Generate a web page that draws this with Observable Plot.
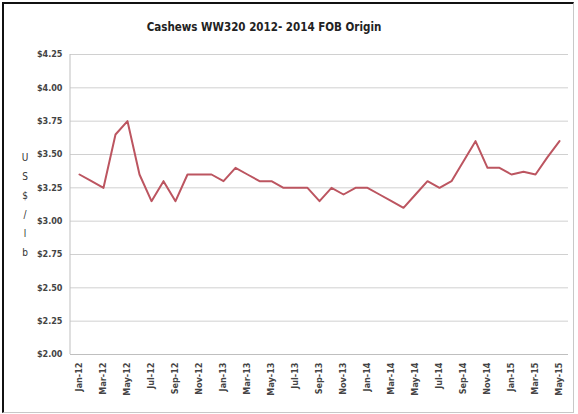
<!DOCTYPE html>
<html>
<head>
<meta charset="utf-8">
<script src="https://cdn.jsdelivr.net/npm/d3@7"></script>
<script src="https://cdn.jsdelivr.net/npm/@observablehq/plot@0.6"></script>
<style>
  html, body { margin: 0; padding: 0; background: #fff; }
  #wrap { position: relative; width: 578px; height: 414px; overflow: hidden; background: #fff;
    font-family: "Liberation Sans Narrow", "DejaVu Sans Condensed", "Liberation Sans", sans-serif; }
  #frame { position: absolute; left: 2px; top: 2px; width: 569px; height: 408px;
    border-top: 2px solid #111; border-left: 2px solid #111;
    border-right: 1px solid #c8c8c8; border-bottom: 1px solid #c8c8c8; pointer-events: none; }
  #title { position: absolute; left: 0; top: 20px; width: 528px; text-align: center;
    font-size: 11.5px; font-weight: bold; color: #222; }
  #ytitle { position: absolute; left: 19px; top: 148px; width: 12px; text-align: center;
    font-size: 10px; font-weight: normal; line-height: 19px; color: #333; }
  #chart { position: absolute; left: 0; top: 0; }
</style>
</head>
<body>
<div id="wrap">
  <div id="chart"></div>
  <div id="title">Cashews WW320 2012- 2014 FOB Origin</div>
  <div id="ytitle"></div>
  <div id="frame"></div>
</div>
<script>
const months = [
  "Jan-12","Feb-12","Mar-12","Apr-12","May-12","Jun-12","Jul-12","Aug-12","Sep-12","Oct-12","Nov-12","Dec-12",
  "Jan-13","Feb-13","Mar-13","Apr-13","May-13","Jun-13","Jul-13","Aug-13","Sep-13","Oct-13","Nov-13","Dec-13",
  "Jan-14","Feb-14","Mar-14","Apr-14","May-14","Jun-14","Jul-14","Aug-14","Sep-14","Oct-14","Nov-14","Dec-14",
  "Jan-15","Feb-15","Mar-15","Apr-15","May-15"
];
const prices = [
  3.35, 3.30, 3.25, 3.65, 3.75, 3.35, 3.15, 3.30, 3.15, 3.35, 3.35, 3.35,
  3.30, 3.40, 3.35, 3.30, 3.30, 3.25, 3.25, 3.25, 3.15, 3.25, 3.20, 3.25,
  3.25, 3.20, 3.15, 3.10, 3.20, 3.30, 3.25, 3.30, 3.45, 3.60, 3.40, 3.40,
  3.35, 3.37, 3.35, 3.48, 3.60
];
const xTickLabels = months.filter((m, i) => i % 2 === 0);
const yTicks = [2.00, 2.25, 2.50, 2.75, 3.00, 3.25, 3.50, 3.75, 4.00, 4.25];
const yTitleLetters = ["U", "S", "$", "/", "l", "b"];

document.getElementById("ytitle").innerHTML = yTitleLetters.join("<br>");

const data = months.map((m, i) => ({month: m, price: prices[i]}));

const chart = Plot.plot({
  width: 578,
  height: 414,
  marginLeft: 70,
  marginRight: 10,
  marginTop: 54,
  marginBottom: 60,
  style: {fontFamily: '"Liberation Sans Narrow", "DejaVu Sans Condensed", sans-serif', fontSize: "9px", color: "#333", background: "transparent"},
  x: {type: "point", domain: months, padding: 0.5},
  y: {domain: [2, 4.25]},
  marks: [
    Plot.gridY(yTicks.filter(v => v > 2), {stroke: "#d0d0d0", strokeOpacity: 1, strokeWidth: 1}),
    Plot.ruleY([2], {stroke: "#bfbfbf"}),
    Plot.axisY(yTicks, {tickSize: 0, tickPadding: 8, tickFormat: d => "$" + d.toFixed(2), fontSize: 9, fontWeight: "bold", fill: "#444", label: null}),
    Plot.axisX(xTickLabels, {tickSize: 0, tickPadding: 8, tickRotate: -90, fontSize: 9, fontWeight: "bold", fill: "#444", label: null}),
    Plot.line(data, {x: "month", y: "price", stroke: "#bc5560", strokeWidth: 2})
  ]
});
const svg = d3.select(chart);
svg.append("line").attr("x1", 70).attr("x2", 70).attr("y1", 54).attr("y2", 354).attr("stroke", "#bfbfbf");
document.getElementById("chart").appendChild(chart);
</script>
</body>
</html>
